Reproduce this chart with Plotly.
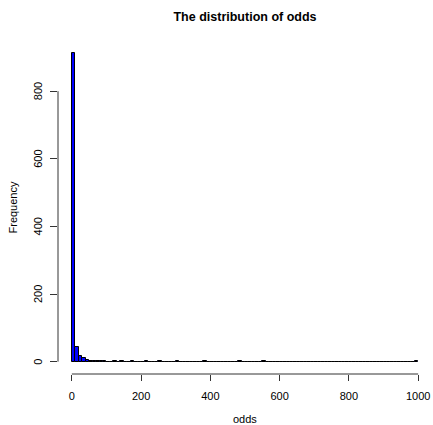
import plotly.graph_objects as go

# Histogram data: bins of width 10 from 0 to 1000
bin_starts = list(range(0, 1000, 10))
counts = [912, 44, 18, 10, 5, 3, 2, 2, 1, 1] + [0] * 90
for i in [12, 14, 17, 21, 25, 30, 38, 48, 55, 99]:
    counts[i] = 1
x_ticks = [0, 200, 400, 600, 800, 1000]
y_ticks = [0, 200, 400, 600, 800]

centers = [b + 5 for b in bin_starts]

W, H = 433, 425
L, R, T, B = 58, 1, 41, 51
PW, PH = W - L - R, H - T - B

fig = go.Figure()
fig.add_trace(go.Bar(
    x=centers, y=counts, width=10,
    marker=dict(color="#0000FF", line=dict(color="black", width=1)),
    showlegend=False, hoverinfo="skip",
))

ff = "Liberation Sans, Arial, sans-serif"
font = dict(family=ff, color="black", size=11)

annotations = [
    dict(text="odds", xref="paper", yref="paper", x=(245 - L) / PW,
         y=-(419 - (H - B)) / PH, xanchor="center", yanchor="middle",
         showarrow=False, font=dict(size=11, color="black", family=ff)),
    dict(text="Frequency", xref="paper", yref="paper", x=-(L - 12) / PW,
         y=0.5, xanchor="center", yanchor="middle", textangle=-90,
         showarrow=False, font=dict(size=11, color="black", family=ff)),
]
for v in y_ticks:
    annotations.append(dict(text=str(v), xref="paper", yref="y", x=-(L - 38) / PW, y=v,
                            xanchor="center", yanchor="middle", textangle=-90,
                            showarrow=False, font=dict(size=11, color="black", family=ff)))

fig.update_layout(
    width=W, height=H,
    margin=dict(l=L, r=R, t=T, b=B, autoexpand=False),
    plot_bgcolor="white", paper_bgcolor="white",
    font=font,
    bargap=0,
    title=dict(text="<b>The distribution of odds</b>", x=245 / W, xanchor="center",
               y=1 - 17 / H, yanchor="middle", font=dict(size=12.5, color="black", family=ff)),
    xaxis=dict(range=[-40, 1040], tickvals=x_ticks, ticktext=[str(v) for v in x_ticks],
               ticks="outside", ticklen=6, tickcolor="#333", showgrid=False, zeroline=False,
               showline=False, automargin=False, ticklabelstandoff=6),
    yaxis=dict(range=[-36.5, 948.5], tickvals=y_ticks, showticklabels=False,
               ticks="outside", ticklen=7, tickcolor="#333", showgrid=False,
               zeroline=False, showline=False, automargin=False),
    shapes=[
        dict(type="line", xref="x", yref="paper", x0=0, x1=1000, y0=0, y1=0,
             line=dict(color="#333", width=1)),
        dict(type="line", xref="paper", yref="y", x0=0, x1=0, y0=0, y1=800,
             line=dict(color="#333", width=1)),
    ],
    annotations=annotations,
)

fig.write_html("out.html", config={"displayModeBar": False},
               post_script="document.body.style.margin='0';document.body.style.overflow='hidden';")
